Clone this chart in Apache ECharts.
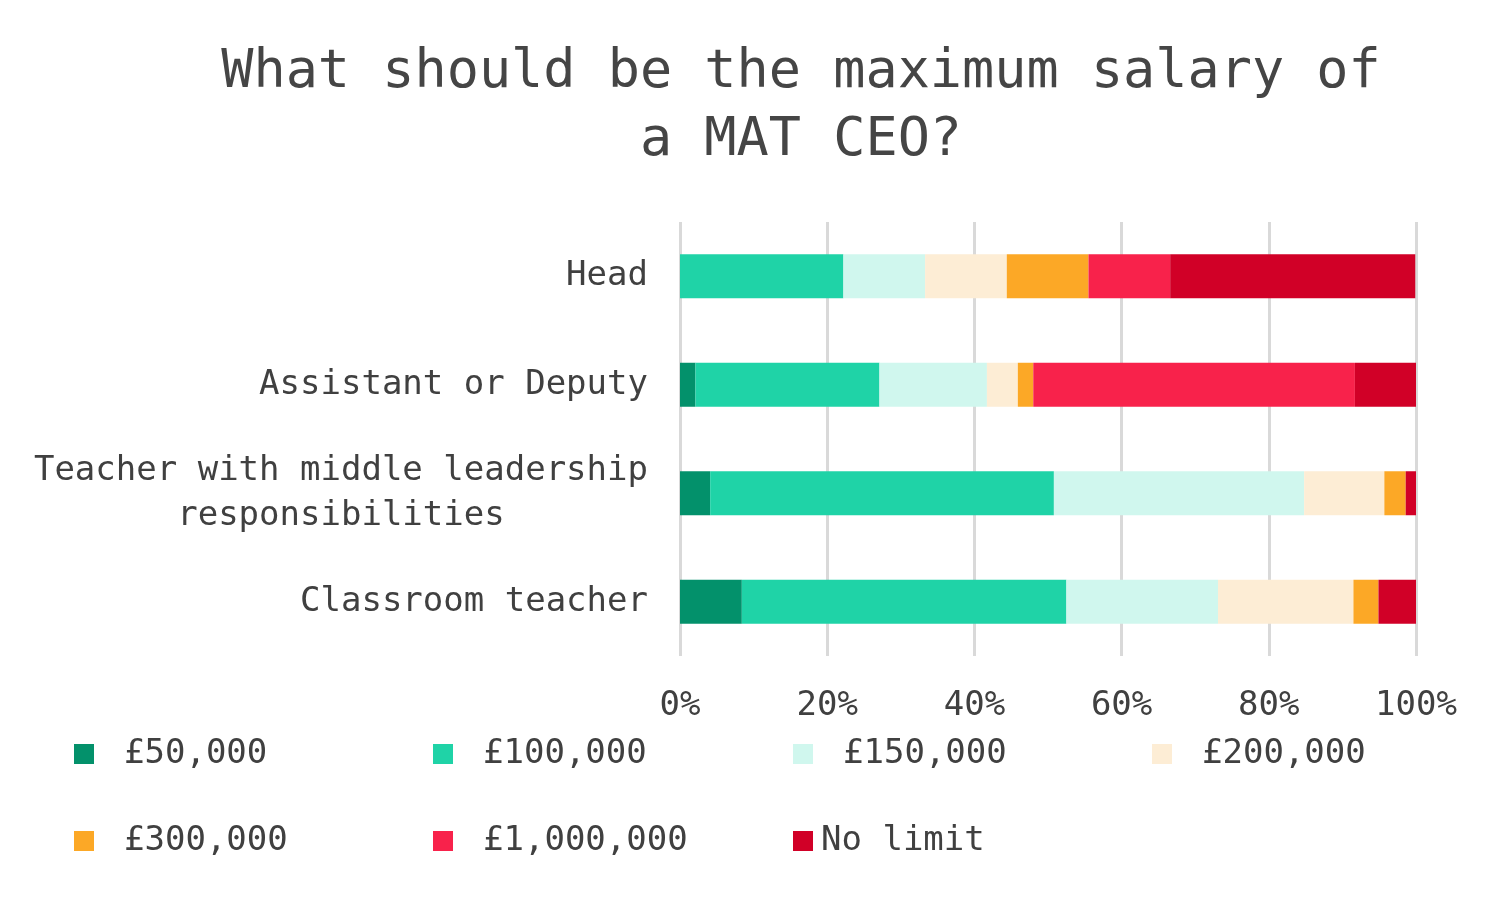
<!DOCTYPE html>
<html>
<head>
<meta charset="utf-8">
<script src="https://cdn.jsdelivr.net/npm/echarts@6/dist/echarts.min.js"></script>
<style>
html,body{margin:0;padding:0;background:#fff;}
#chart{width:1504px;height:908px;}
</style>
</head>
<body>
<div id="chart"></div>
<script>
const titleText = 'What should be the maximum salary of\na MAT CEO?';
const categories = ['Head', 'Assistant or Deputy', 'Teacher with middle leadership\nresponsibilities', 'Classroom teacher'];
const seriesNames = ['£50,000', '£100,000', '£150,000', '£200,000', '£300,000', '£1,000,000', 'No limit'];
const s50k = [0, 2.1, 4.1, 8.4];
const s100k = [22.2, 25.0, 46.7, 44.1];
const s150k = [11.1, 14.6, 34.0, 20.6];
const s200k = [11.1, 4.2, 10.9, 18.4];
const s300k = [11.1, 2.1, 2.9, 3.4];
const s1m = [11.1, 43.7, 0, 0];
const sNoLimit = [33.3, 8.3, 1.4, 5.1];
const xTicks = [0, 20, 40, 60, 80, 100];

const seriesValues = [s50k, s100k, s150k, s200k, s300k, s1m, sNoLimit];
const colors = ['#03916B', '#1FD3A7', '#D0F7EE', '#FDEDD5', '#FCA826', '#F8224B', '#D10027'];
const FONT = 'DejaVu Sans Mono';
const TXT = '#404040';

function centerLines(v) {
  const lines = v.split('\n');
  const maxLen = Math.max(...lines.map(l => l.length));
  return lines.map(l => {
    const pad = maxLen - l.length;
    const right = Math.floor(pad / 2);
    return l + ' '.repeat(right);
  }).join('\n');
}

const legendPos = [
  [74, 734], [433, 734], [793, 734], [1152, 734],
  [74, 821], [433, 821], [793, 821]
];

const legends = seriesNames.map((n, i) => ({
  data: [n],
  left: legendPos[i][0],
  top: legendPos[i][1],
  padding: 0,
  icon: 'rect',
  itemWidth: 20,
  itemHeight: 20,
  itemGap: 0,
  selectedMode: false,
  textStyle: {
    fontFamily: FONT, fontSize: 34, color: TXT, lineHeight: 40,
    padding: n.startsWith('£') ? [0, 0, 0, 25] : [0, 0, 0, 3]
  }
}));

const chart = echarts.init(document.getElementById('chart'), null, {renderer: 'canvas'});
chart.setOption({
  backgroundColor: '#ffffff',
  animation: false,
  title: {
    text: titleText,
    left: 796,
    top: 34,
    textAlign: 'center',
    textStyle: {fontFamily: FONT, fontSize: 53.5, fontWeight: 'normal', color: '#454545', lineHeight: 68}
  },
  legend: legends,
  grid: {left: 680, right: 88, top: 222, height: 434, containLabel: false},
  xAxis: {
    type: 'value', min: 0, max: 100, interval: 20,
    axisLine: {show: false}, axisTick: {show: false},
    splitLine: {show: true, lineStyle: {color: '#D9D9D9', width: 3}},
    axisLabel: {
      formatter: v => xTicks.includes(v) ? v + '%' : '',
      fontFamily: FONT, fontSize: 34, color: TXT, margin: 33
    }
  },
  yAxis: {
    type: 'category', data: categories, inverse: true,
    axisLine: {show: false}, axisTick: {show: false},
    axisLabel: {
      formatter: centerLines,
      fontFamily: FONT, fontSize: 34, color: TXT, margin: 32, lineHeight: 45,
      padding: [6, 0, 0, 0]
    }
  },
  series: seriesNames.map((n, i) => ({
    name: n, type: 'bar', stack: 'total', barWidth: 44,
    itemStyle: {color: colors[i]},
    data: seriesValues[i]
  }))
});
</script>
</body>
</html>
